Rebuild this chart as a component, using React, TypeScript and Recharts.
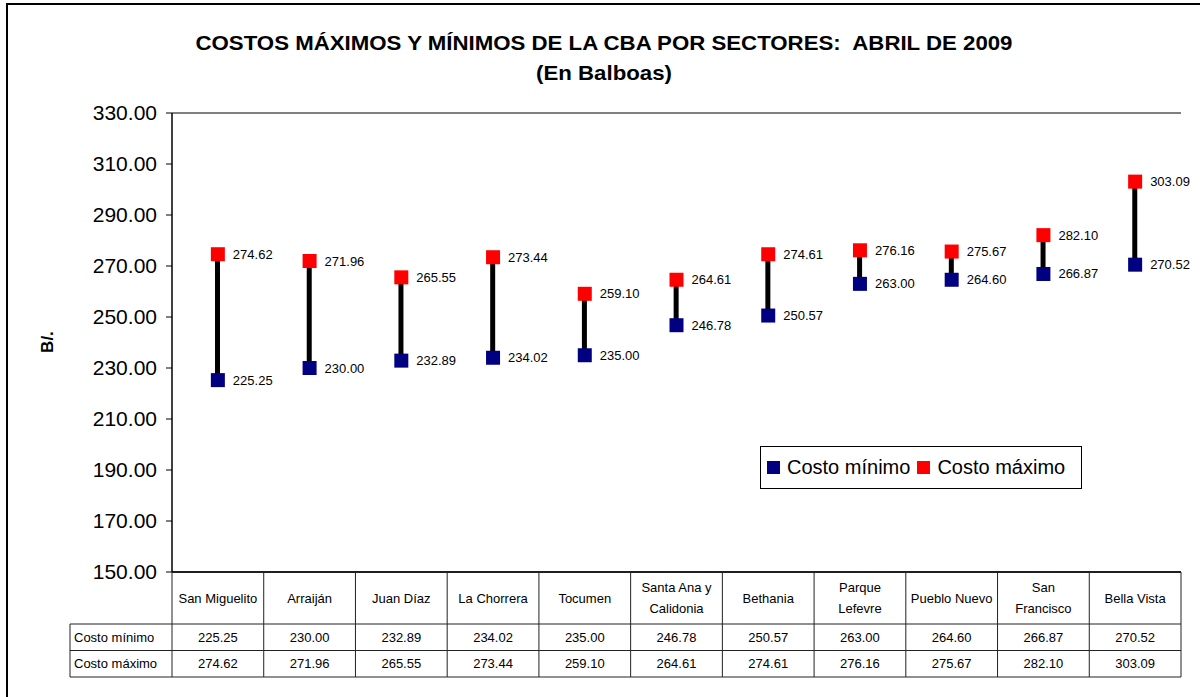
import React from 'react';
import {
  ComposedChart, Bar, Line, XAxis, YAxis, CartesianGrid, LabelList, Customized,
} from 'recharts';

const categories = [
  'San Miguelito', 'Arraiján', 'Juan Díaz', 'La Chorrera', 'Tocumen',
  'Santa Ana y\nCalidonia', 'Bethania', 'Parque\nLefevre', 'Pueblo Nuevo',
  'San\nFrancisco', 'Bella Vista',
];
const costoMinimo = [225.25, 230.0, 232.89, 234.02, 235.0, 246.78, 250.57, 263.0, 264.6, 266.87, 270.52];
const costoMaximo = [274.62, 271.96, 265.55, 273.44, 259.1, 264.61, 274.61, 276.16, 275.67, 282.1, 303.09];
const yTicks = [150, 170, 190, 210, 230, 250, 270, 290, 310, 330];
const rowLabels = ['Costo mínimo', 'Costo máximo'];
const titleLines = ['COSTOS MÁXIMOS Y MÍNIMOS DE LA CBA POR SECTORES:  ABRIL DE 2009', '(En Balboas)'];
const yLabel = 'B/.';

const data = categories.map((name, i) => ({
  name,
  min: costoMinimo[i],
  max: costoMaximo[i],
  range: [costoMinimo[i], costoMaximo[i]],
}));

const FONT = '"Liberation Sans", Arial, sans-serif';
const W = 1200;
const H = 697;
const PLOT_LEFT = 172;
const PLOT_RIGHT = 1181;
const CELL_W = (PLOT_RIGHT - PLOT_LEFT) / categories.length;
const HEAD_H = 52;
const ROW_H = 26.5;
const TABLE_LEFT = 70;
const LINE = '#222';

const TableTick = (props: any) => {
  const { x, y, payload, index } = props;
  const i = index ?? payload.index;
  const l = x - CELL_W / 2;
  const r = x + CELL_W / 2;
  const lines = String(payload.value).split('\n');
  const r1 = y + HEAD_H;
  const r2 = r1 + ROW_H;
  const r3 = r2 + ROW_H;
  return (
    <g fontFamily={FONT} fontSize={13} fill="#000">
      <line x1={r} y1={y} x2={r} y2={r3} stroke={LINE} />
      <line x1={l} y1={r1} x2={r} y2={r1} stroke={LINE} />
      <line x1={l} y1={r2} x2={r} y2={r2} stroke={LINE} />
      <line x1={l} y1={r3} x2={r} y2={r3} stroke={LINE} />
      {lines.map((t, k) => (
        <text key={k} x={x} y={y + HEAD_H / 2 + (k - (lines.length - 1) / 2) * 21} textAnchor="middle" dominantBaseline="central" fill="#000">
          {t}
        </text>
      ))}
      <text x={x} y={r1 + ROW_H / 2} textAnchor="middle" dominantBaseline="central" fill="#000">{costoMinimo[i].toFixed(2)}</text>
      <text x={x} y={r2 + ROW_H / 2} textAnchor="middle" dominantBaseline="central" fill="#000">{costoMaximo[i].toFixed(2)}</text>
      {i === 0 && (
        <g>
          <line x1={l} y1={y} x2={l} y2={r3} stroke={LINE} />
          <line x1={TABLE_LEFT} y1={r1} x2={l} y2={r1} stroke={LINE} />
          <line x1={TABLE_LEFT} y1={r2} x2={l} y2={r2} stroke={LINE} />
          <line x1={TABLE_LEFT} y1={r3} x2={l} y2={r3} stroke={LINE} />
          <line x1={TABLE_LEFT} y1={r1} x2={TABLE_LEFT} y2={r3} stroke={LINE} />
          <text x={TABLE_LEFT + 4} y={r1 + ROW_H / 2} dominantBaseline="central" fill="#000">{rowLabels[0]}</text>
          <text x={TABLE_LEFT + 4} y={r2 + ROW_H / 2} dominantBaseline="central" fill="#000">{rowLabels[1]}</text>
        </g>
      )}
    </g>
  );
};

const square = (color: string) => (props: any) => {
  const { cx, cy, index } = props;
  if (cx == null || cy == null) return <g key={index} />;
  return <rect key={index} x={cx - 7} y={cy - 7} width={14} height={14} fill={color} />;
};

const valueLabel = (props: any) => {
  const { x, y, value } = props;
  return (
    <text x={x + 15} y={y} dominantBaseline="central" fontFamily={FONT} fontSize={13} fill="#000">
      {Number(value).toFixed(2)}
    </text>
  );
};

const Decor = () => (
  <g fontFamily={FONT}>
    <rect x={7} y={4} width={W + 10} height={H + 10} fill="none" stroke="#000" strokeWidth={2} />
    <text x={604} y={42} textAnchor="middle" dominantBaseline="central" fontSize={21} fontWeight="bold" fill="#000" textLength={817} lengthAdjust="spacingAndGlyphs" style={{ whiteSpace: 'pre' }}>
      {titleLines[0]}
    </text>
    <text x={604} y={72} textAnchor="middle" dominantBaseline="central" fontSize={21} fontWeight="bold" fill="#000" textLength={136} lengthAdjust="spacingAndGlyphs">
      {titleLines[1]}
    </text>
    <text x={47} y={342} textAnchor="middle" dominantBaseline="central" fontSize={17} fontWeight="bold" fill="#000" transform="rotate(-90 47 342)">
      {yLabel}
    </text>
  </g>
);

const legendItems = [
  { name: 'Costo mínimo', color: '#000080' },
  { name: 'Costo máximo', color: '#FF0000' },
];

const LegendBox = () => (
  <div style={{
    position: 'absolute', left: 760, top: 446,
    width: 322, height: 43, border: '1px solid #000', background: '#fff', boxSizing: 'border-box',
    display: 'flex', alignItems: 'center', paddingLeft: 6, fontFamily: FONT, fontSize: 20, color: '#000',
  }}>
    {legendItems.map((it) => (
      <span key={it.name} style={{ display: 'flex', alignItems: 'center', marginRight: 7 }}>
        <span style={{ display: 'inline-block', width: 13, height: 13, background: it.color, marginRight: 7 }} />
        {it.name}
      </span>
    ))}
  </div>
);

export default function App() {
  return (
    <div style={{ position: 'absolute', left: 0, top: 0, width: W, height: H, background: '#fff' }}>
      <ComposedChart
        width={W}
        height={H}
        data={data}
        margin={{ top: 113, right: W - PLOT_RIGHT, left: 0, bottom: 0 }}
      >
        <CartesianGrid vertical={false} stroke="#000" strokeWidth={1} />
        <XAxis
          dataKey="name"
          interval={0}
          height={H - 572}
          tickSize={0}
          tickMargin={0}
          tickLine={false}
          axisLine={{ stroke: '#000', strokeWidth: 1.5 }}
          tick={<TableTick />}
        />
        <YAxis
          yAxisId="left"
          width={PLOT_LEFT}
          domain={[150, 330]}
          ticks={yTicks}
          interval={0}
          tickFormatter={(v: number) => v.toFixed(2)}
          tick={{ fontSize: 21, fill: '#000', fontFamily: FONT }}
          tickSize={6}
          tickMargin={9}
          tickLine={{ stroke: '#000' }}
          axisLine={{ stroke: '#000', strokeWidth: 1.5 }}
        />
        <YAxis
          yAxisId="right"
          orientation="right"
          width={0}
          domain={[150, 330]}
          tick={false}
          tickLine={false}
          axisLine={{ stroke: '#888', strokeWidth: 1.5 }}
        />
        <Bar yAxisId="left" dataKey="range" barSize={5} fill="#000" isAnimationActive={false} legendType="none" />
        <Line
          yAxisId="left"
          dataKey="min"
          name="Costo mínimo"
          stroke="none"
          dot={square('#000080')}
          activeDot={false}
          isAnimationActive={false}
        >
          <LabelList dataKey="min" content={valueLabel} />
        </Line>
        <Line
          yAxisId="left"
          dataKey="max"
          name="Costo máximo"
          stroke="none"
          dot={square('#FF0000')}
          activeDot={false}
          isAnimationActive={false}
        >
          <LabelList dataKey="max" content={valueLabel} />
        </Line>
        <Customized component={<Decor />} />
      </ComposedChart>
      <LegendBox />
    </div>
  );
}
